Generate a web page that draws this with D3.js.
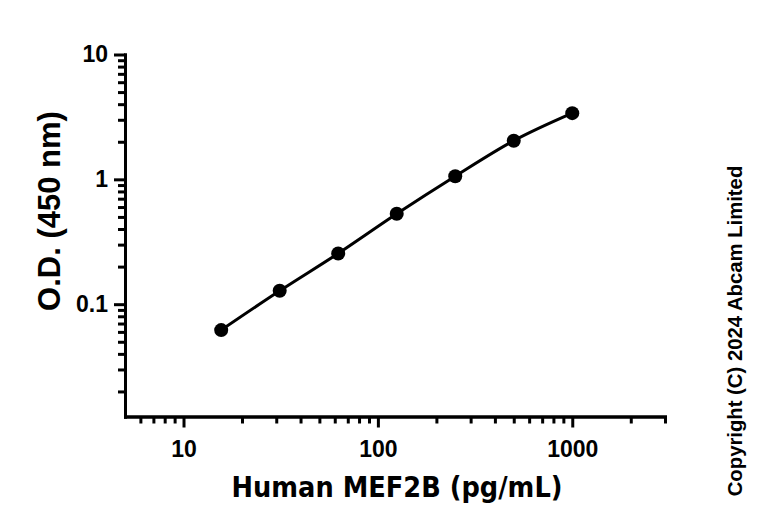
<!DOCTYPE html>
<html>
<head>
<meta charset="utf-8">
<script src="https://cdn.jsdelivr.net/npm/d3@7"></script>
<style>
  body { margin: 0; background: #fff; }
  svg { display: block; }
</style>
</head>
<body>
<div id="chart"></div>
<script>
// standard curve: concentration (pg/mL) vs O.D. at 450 nm
const concentrations = [15.625, 31.25, 62.5, 125, 250, 500, 1000];
const odValues = [0.062, 0.128, 0.255, 0.53, 1.06, 2.04, 3.39];

const xMajor = [10, 100, 1000];
const xMinor = [6, 7, 8, 9, 20, 30, 40, 50, 60, 70, 80, 90, 200, 300, 400, 500, 600, 700, 800, 900, 2000, 3000];
const yMajor = [0.1, 1, 10];
const yMinor = [0.02, 0.03, 0.04, 0.05, 0.06, 0.07, 0.08, 0.09, 0.2, 0.3, 0.4, 0.5, 0.6, 0.7, 0.8, 0.9, 2, 3, 4, 5, 6, 7, 8, 9];

const xTitle = "Human MEF2B (pg/mL)";
const yTitle = "O.D. (450 nm)";
const copyright = "Copyright (C) 2024 Abcam Limited";

const width = 768, height = 527;
const svg = d3.select("#chart")
  .append("svg")
  .attr("width", width)
  .attr("height", height);

const x = d3.scaleLog().domain([5, 3000]).range([125, 665]);
const y = d3.scaleLog().domain([0.0126, 10]).range([416.5, 54.5]);

const tickFont = "'Liberation Sans', Arial, sans-serif";

function styleAxis(g){
  g.select(".domain")
    .attr("stroke", "#000")
    .attr("stroke-width", 3)
    .attr("stroke-linecap", "square");
  g.selectAll(".tick line")
    .attr("stroke", "#000")
    .attr("stroke-width", 3);
  g.selectAll(".tick text")
    .attr("font-family", tickFont)
    .attr("font-weight", "bold")
    .attr("font-size", 23)
    .attr("fill", "#000");
}

// minor ticks first, then majors with labels
svg.append("g")
  .attr("transform", `translate(0,${y.range()[0]})`)
  .call(d3.axisBottom(x).tickValues(xMinor).tickSize(7).tickSizeOuter(0).tickFormat(""))
  .call(styleAxis);

svg.append("g")
  .attr("transform", `translate(0,${y.range()[0]})`)
  .call(d3.axisBottom(x).tickValues(xMajor).tickSize(11).tickSizeOuter(0).tickPadding(13).tickFormat(d3.format("d")))
  .call(styleAxis);

svg.append("g")
  .attr("transform", `translate(${x.range()[0]},0)`)
  .call(d3.axisLeft(y).tickValues(yMinor).tickSize(7).tickSizeOuter(0).tickFormat(""))
  .call(styleAxis);

svg.append("g")
  .attr("transform", `translate(${x.range()[0]},0)`)
  .call(d3.axisLeft(y).tickValues(yMajor).tickSize(11).tickSizeOuter(0).tickPadding(6).tickFormat(d => d < 1 ? d.toString() : d3.format("d")(d)))
  .call(styleAxis);

// curve through the standards
const points = concentrations.map((c, i) => ({x: c, y: odValues[i]}));
const line = d3.line()
  .x(d => x(d.x))
  .y(d => y(d.y))
  .curve(d3.curveMonotoneX);

svg.append("path")
  .datum(points)
  .attr("d", line)
  .attr("fill", "none")
  .attr("stroke", "#000")
  .attr("stroke-width", 3);

svg.selectAll(".dot")
  .data(points)
  .enter()
  .append("circle")
  .attr("class", "dot")
  .attr("cx", d => x(d.x))
  .attr("cy", d => y(d.y))
  .attr("r", 7)
  .attr("fill", "#000");

// axis titles
svg.append("text")
  .attr("x", (x.range()[0] + x.range()[1] + 4) / 2)
  .attr("y", 496.5)
  .attr("text-anchor", "middle")
  .attr("font-family", "'DejaVu Sans', sans-serif")
  .attr("font-weight", "bold")
  .attr("font-size", 29)
  .attr("textLength", 331)
  .attr("lengthAdjust", "spacingAndGlyphs")
  .text(xTitle);

svg.append("text")
  .attr("transform", "translate(60,211) rotate(-90)")
  .attr("text-anchor", "middle")
  .attr("font-family", tickFont)
  .attr("font-weight", "bold")
  .attr("font-size", 31)
  .text(yTitle);

svg.append("text")
  .attr("transform", "translate(742,331) rotate(-90)")
  .attr("text-anchor", "middle")
  .attr("font-family", tickFont)
  .attr("font-weight", "bold")
  .attr("font-size", 20.3)
  .text(copyright);
</script>
</body>
</html>
